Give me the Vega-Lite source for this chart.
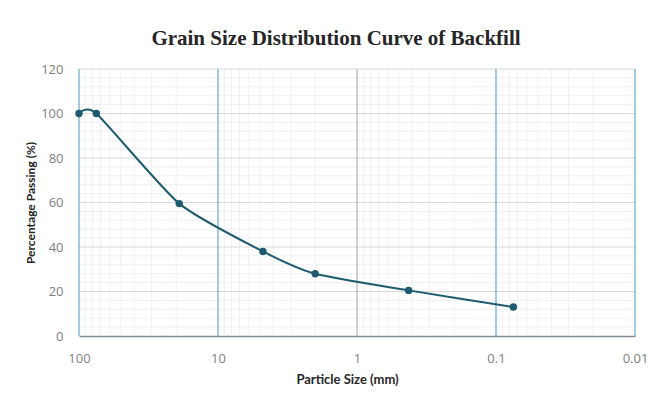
{
  "$schema": "https://vega.github.io/schema/vega-lite/v6.json",
  "width": 556,
  "height": 267,
  "autosize": {"type": "none"},
  "padding": {"left": 79, "top": 69, "right": 22, "bottom": 71},
  "background": "white",
  "config": {"view": {"stroke": null}},
  "title": {
    "text": "Grain Size Distribution Curve of Backfill",
    "font": "Liberation Serif",
    "fontSize": 21,
    "fontWeight": "bold",
    "color": "#262626",
    "anchor": "middle",
    "dx": -21,
    "offset": 14
  },
  "datasets": {
    "sieve": [
      {"size": 100, "passing": 100},
      {"size": 75, "passing": 100},
      {"size": 19, "passing": 59.5},
      {"size": 4.75, "passing": 38},
      {"size": 2, "passing": 28},
      {"size": 0.425, "passing": 20.5},
      {"size": 0.075, "passing": 13}
    ],
    "minorx": [
      {"size": 90}, {"size": 80}, {"size": 70}, {"size": 60}, {"size": 50}, {"size": 40}, {"size": 30}, {"size": 20},
      {"size": 9}, {"size": 8}, {"size": 7}, {"size": 6}, {"size": 5}, {"size": 4}, {"size": 3}, {"size": 2},
      {"size": 0.9}, {"size": 0.8}, {"size": 0.7}, {"size": 0.6}, {"size": 0.5}, {"size": 0.4}, {"size": 0.3}, {"size": 0.2},
      {"size": 0.09}, {"size": 0.08}, {"size": 0.07}, {"size": 0.06}, {"size": 0.05}, {"size": 0.04}, {"size": 0.03}, {"size": 0.02}
    ],
    "minory": [
      {"passing": 4}, {"passing": 8}, {"passing": 12}, {"passing": 16}, {"passing": 24}, {"passing": 28}, {"passing": 32}, {"passing": 36},
      {"passing": 44}, {"passing": 48}, {"passing": 52}, {"passing": 56}, {"passing": 64}, {"passing": 68}, {"passing": 72}, {"passing": 76},
      {"passing": 84}, {"passing": 88}, {"passing": 92}, {"passing": 96}, {"passing": 104}, {"passing": 108}, {"passing": 112}, {"passing": 116}
    ],
    "majory": [{"passing": 20}, {"passing": 40}, {"passing": 60}, {"passing": 80}, {"passing": 100}, {"passing": 120}],
    "bluex": [{"size": 100}, {"size": 10}, {"size": 0.1}, {"size": 0.01}],
    "greyx": [{"size": 1}]
  },
  "layer": [
    {
      "data": {"name": "minorx"},
      "mark": {"type": "rule", "color": "#EEF0F2", "strokeWidth": 1},
      "encoding": {
        "x": {"field": "size", "type": "quantitative", "scale": {"type": "log", "domain": [0.01, 100], "reverse": true}}
      }
    },
    {
      "data": {"name": "minory"},
      "mark": {"type": "rule", "color": "#EEF0F2", "strokeWidth": 1},
      "encoding": {
        "y": {"field": "passing", "type": "quantitative", "scale": {"domain": [0, 120]}}
      }
    },
    {
      "data": {"name": "majory"},
      "mark": {"type": "rule", "color": "#D9D9D9", "strokeWidth": 1},
      "encoding": {
        "y": {"field": "passing", "type": "quantitative"}
      }
    },
    {
      "data": {"name": "greyx"},
      "mark": {"type": "rule", "color": "#A6A6A6", "strokeWidth": 1},
      "encoding": {
        "x": {"field": "size", "type": "quantitative"}
      }
    },
    {
      "data": {"name": "bluex"},
      "mark": {"type": "rule", "color": "#6FB0D8", "strokeWidth": 1.3},
      "encoding": {
        "x": {"field": "size", "type": "quantitative"}
      }
    },
    {
      "data": {"name": "sieve"},
      "mark": {"type": "line", "color": "#1E5A70", "strokeWidth": 2, "interpolate": "cardinal", "tension": 0.4, "point": {"filled": true, "size": 55, "color": "#1E5A70"}},
      "encoding": {
        "x": {
          "field": "size", "type": "quantitative",
          "axis": {
            "title": "Particle Size (mm)",
            "values": [100, 10, 1, 0.1, 0.01],
            "format": "~g",
            "grid": false,
            "ticks": false,
            "domainColor": "#7F8A93",
            "domainWidth": 1.5,
            "labelFont": "Open Sans",
            "labelFontSize": 13,
            "labelColor": "#808080",
            "labelPadding": 16,
            "labelFlush": false,
            "titleFont": "Lato",
            "titleFontSize": 13,
            "titleFontWeight": "bold",
            "titleColor": "#262626",
            "titlePadding": 8,
            "titleX": 268
          }
        },
        "y": {
          "field": "passing", "type": "quantitative",
          "axis": {
            "title": "Percentage Passing (%)",
            "values": [0, 20, 40, 60, 80, 100, 120],
            "grid": false,
            "ticks": false,
            "domain": false,
            "labelFont": "Open Sans",
            "labelFontSize": 13,
            "labelColor": "#808080",
            "labelPadding": 16,
            "titleFont": "Lato",
            "titleFontSize": 12,
            "titleFontWeight": "bold",
            "titleColor": "#262626",
            "titlePadding": 3
          }
        }
      }
    }
  ]
}
